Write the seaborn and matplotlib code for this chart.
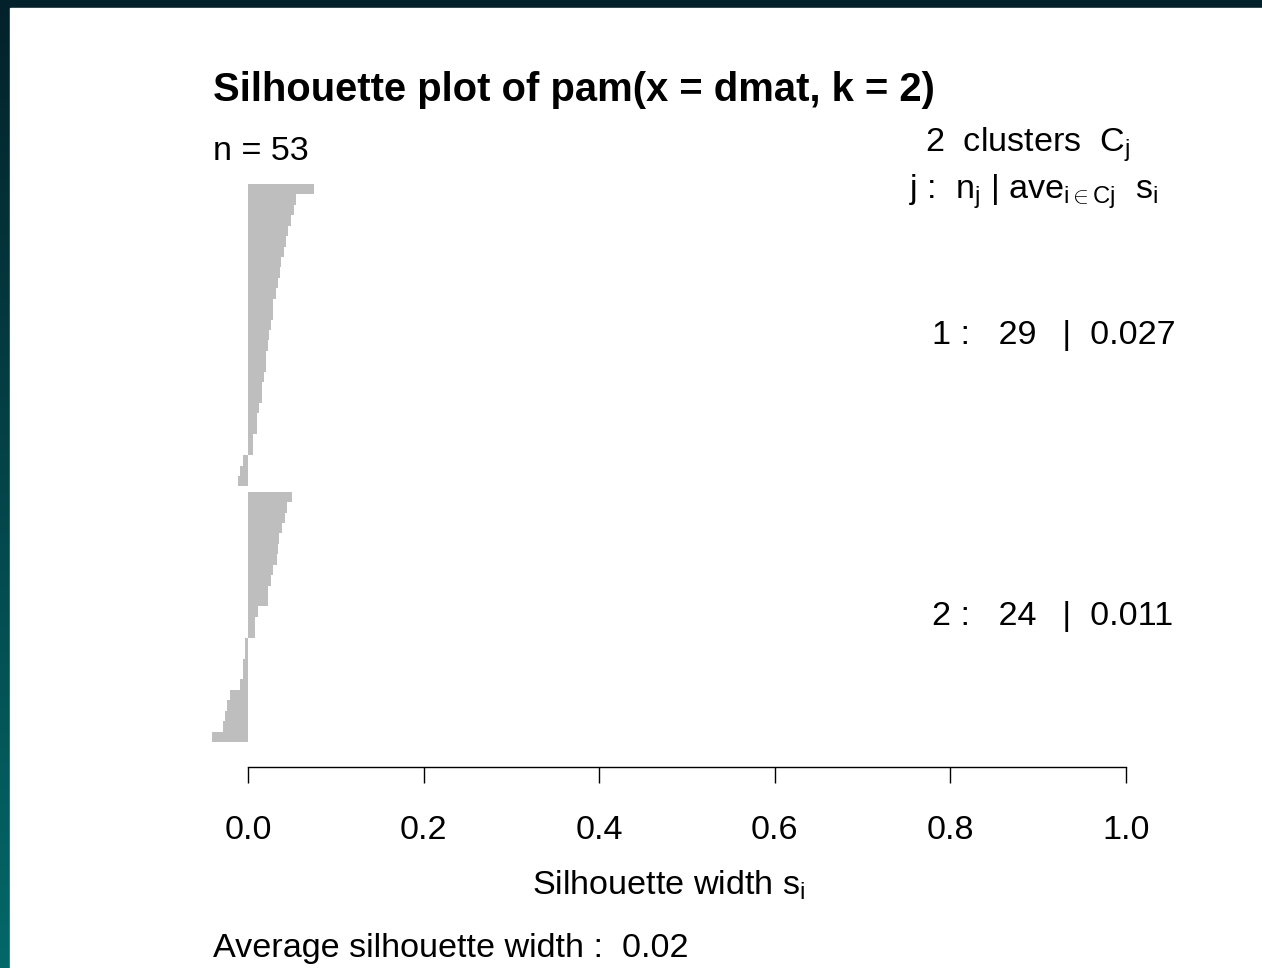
import numpy as np
import pandas as pd
import matplotlib
matplotlib.use("Agg")
import matplotlib.pyplot as plt
import seaborn as sns
from matplotlib.patches import Rectangle

# silhouette widths, sorted within each cluster
sil_c1 = [0.0755, 0.0547, 0.0524, 0.0494, 0.0460, 0.0437, 0.0406, 0.0370, 0.0360,
          0.0338, 0.0315, 0.0281, 0.0280, 0.0258, 0.0235, 0.0230, 0.0205, 0.0200,
          0.0186, 0.0163, 0.0160, 0.0129, 0.0099, 0.0099, 0.0060, 0.0060,
          -0.0060, -0.0090, -0.0114]
sil_c2 = [0.0497, 0.0448, 0.0425, 0.0390, 0.0350, 0.0340, 0.0330, 0.0280, 0.0258,
          0.0228, 0.0225, 0.0110, 0.0080, 0.0080, -0.0030, -0.0030, -0.0057, -0.0060,
          -0.0095, -0.0200, -0.0243, -0.0260, -0.0280, -0.0407]
cluster_avg = [0.027, 0.011]
overall_avg = 0.02
x_ticks = [0.0, 0.2, 0.4, 0.6, 0.8, 1.0]
tick_labels = ["0.0", "0.2", "0.4", "0.6", "0.8", "1.0"]

# bar positions: one slot per observation, half a slot between clusters
gap = 0.5
pos1 = np.arange(len(sil_c1), dtype=float)
pos2 = len(sil_c1) + gap + np.arange(len(sil_c2), dtype=float)
df = pd.DataFrame({
    "s": sil_c1 + sil_c2,
    "pos": np.concatenate([pos1, pos2]),
    "cluster": [1] * len(sil_c1) + [2] * len(sil_c2),
})
n = len(df)

sns.set_style("white")
plt.rcParams["font.family"] = ["Liberation Sans", "DejaVu Sans"]
plt.rcParams["mathtext.fontset"] = "custom"
plt.rcParams["mathtext.rm"] = "Liberation Sans"
plt.rcParams["mathtext.it"] = "Liberation Sans"
plt.rcParams["mathtext.bf"] = "Liberation Sans:bold"
plt.rcParams["text.color"] = "black"
plt.rcParams["xtick.color"] = "black"

FS = 24.6
W, H = 1262, 968
fig = plt.figure(figsize=(W / 100, H / 100), dpi=100)

# dark teal frame on the left and top
bg = fig.add_axes([0, 0, 1, 1], zorder=-10)
grad = np.linspace(0, 1, 256).reshape(-1, 1)
cmap = matplotlib.colors.LinearSegmentedColormap.from_list("frame", ["#03212a", "#036868"])
bg.imshow(grad, aspect="auto", cmap=cmap, extent=[0, 1, 0, 1], origin="upper")
bg.add_patch(Rectangle((10 / W, 0), 1, 1 - 8 / H, color="white", transform=bg.transAxes))
bg.set_xlim(0, 1)
bg.set_ylim(0, 1)
bg.axis("off")

ax = fig.add_axes([212.3 / W, 1 - 767 / H, (1126 - 212.3) / W, 607 / H])
ax.patch.set_alpha(0)
sns.barplot(data=df, x="s", y="pos", orient="h", native_scale=True, color="#bebebe",
            saturation=1, width=1, linewidth=0, errorbar=None, ax=ax)

ax.set_xlim(min(0, df["s"].min()), 1)
ax.set_ylim(55.4, -2.8)
for sp in ["left", "top", "right"]:
    ax.spines[sp].set_visible(False)
ax.spines["bottom"].set_bounds(0, 1)
ax.spines["bottom"].set_linewidth(1)
ax.spines["bottom"].set_color("black")
ax.set_yticks([])
ax.set_ylabel("")
ax.set_xlabel("")
ax.set_xticks(x_ticks)
ax.set_xticklabels(tick_labels)
ax.tick_params(axis="x", bottom=True, direction="out", length=11.5, width=1,
               color="black", labelcolor="black", labelsize=FS, pad=23)

# cluster annotations
for k, (grp, avg) in enumerate(zip([sil_c1, sil_c2], cluster_avg), start=1):
    yc = df.loc[df["cluster"] == k, "pos"].mean()
    ax.text(0.779, yc, f"{k} :   {len(grp)}  \u2009|  {avg:.3f}", fontsize=FS,
            ha="left", va="center")


def fy(px):
    return 1 - px / H


fig.text(213 / W, fy(101), "Silhouette plot of pam(x = dmat, k = 2)", fontsize=28.8,
         fontweight="bold", ha="left", va="baseline")
fig.text(213 / W, fy(160), f"n = {n}", fontsize=FS, ha="left", va="baseline")
fig.text(1027 / W, fy(152), r"2  clusters  $C_j$", fontsize=FS, ha="center", va="baseline")
fig.text(1033 / W, fy(199), r"j :  $n_j$ | $ave_{i \in Cj}$  $s_i$", fontsize=FS,
         ha="center", va="baseline")
fig.text(669 / W, fy(895), r"Silhouette width $s_i$", fontsize=FS, ha="center", va="baseline")
fig.text(213 / W, fy(957), f"Average silhouette width :  {overall_avg}", fontsize=FS,
         ha="left", va="baseline")

fig.savefig("out.png", dpi=100)
